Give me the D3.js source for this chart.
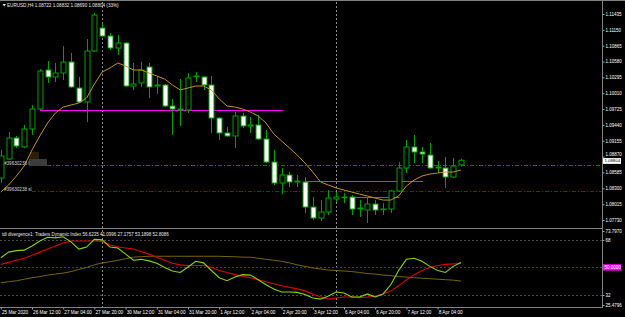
<!DOCTYPE html>
<html><head><meta charset="utf-8">
<script src="https://cdn.jsdelivr.net/npm/d3@7"></script>
<style>html,body{margin:0;padding:0;background:#000;overflow:hidden}svg{display:block}</style>
</head><body>
<svg id="c" width="625" height="317"></svg>
<script>
// ---- data (EURUSD H4, 25 Mar 2020 20:00 .. 8 Apr 2020 16:00) ----
const opens = [1.08485,1.08827,1.09205,1.09043,1.09367,1.09726,1.10428,1.10302,1.10374,1.10572,
 1.10104,1.09852,1.10769,1.11183,1.11039,1.10823,1.10913,1.10140,1.10194,1.10482,
 1.10140,1.10158,1.09780,1.09726,1.09708,1.10320,1.10302,1.10158,1.09564,1.09295,
 1.09241,1.09600,1.09421,1.09439,1.09187,1.08773,1.08395,1.08539,1.08413,1.08413,
 1.07963,1.07766,1.07874,1.08107,1.08143,1.08143,1.07927,1.07909,1.08017,1.07927,
 1.07927,1.08251,1.08665,1.09043,1.08953,1.08899,1.08665,1.08665,1.08503,1.08722];
const highs = [1.08989,1.09313,1.09241,1.09439,1.09798,1.10446,1.10590,1.10554,1.10859,1.10734,
 1.10302,1.10985,1.11453,1.11273,1.11093,1.11057,1.10931,1.10554,1.10572,1.10554,
 1.10320,1.10176,1.09906,1.10266,1.10374,1.10392,1.10320,1.10320,1.09582,1.09403,
 1.09672,1.09654,1.09582,1.09618,1.09349,1.08989,1.08665,1.08593,1.08539,1.08503,
 1.08143,1.08089,1.08269,1.08233,1.08215,1.08179,1.08089,1.08143,1.08089,1.08035,
 1.08269,1.08773,1.09169,1.09259,1.09043,1.09115,1.08791,1.08863,1.08845,1.08832];
const lows = [1.08395,1.08809,1.09025,1.09025,1.09259,1.09708,1.10194,1.10212,1.10248,1.10104,
 1.09834,1.09492,1.10751,1.11021,1.10787,1.10698,1.10122,1.10068,1.10122,1.09924,
 1.09996,1.09762,1.09259,1.09421,1.09654,1.10212,1.10068,1.09295,1.09169,1.09223,
 1.09025,1.09385,1.09295,1.09169,1.08755,1.08359,1.08197,1.08323,1.08323,1.07856,
 1.07730,1.07712,1.07820,1.08053,1.08035,1.07820,1.07784,1.07676,1.07820,1.07820,
 1.07856,1.08233,1.08575,1.08755,1.08755,1.08647,1.08575,1.08305,1.08485,1.08690];
const closes = [1.08881,1.09205,1.09061,1.09367,1.09726,1.10410,1.10302,1.10374,1.10572,1.10122,
 1.09852,1.10769,1.11417,1.11039,1.10823,1.10913,1.10140,1.10176,1.10428,1.10122,
 1.10158,1.09780,1.09726,1.09708,1.10284,1.10318,1.10158,1.09564,1.09295,1.09241,
 1.09600,1.09421,1.09439,1.09187,1.08773,1.08395,1.08539,1.08413,1.08431,1.07963,
 1.07766,1.07874,1.08125,1.08143,1.08140,1.07927,1.07945,1.08017,1.07909,1.07925,
 1.08251,1.08665,1.09043,1.08953,1.08917,1.08665,1.08683,1.08503,1.08701,1.08804];
const maValues = [1.08233,1.08359,1.08521,1.08701,1.08989,1.09241,1.09475,1.09654,1.09762,1.09798,
 1.09834,1.09924,1.10176,1.10392,1.10464,1.10554,1.10500,1.10428,1.10428,1.10374,
 1.10320,1.10266,1.10158,1.10068,1.10104,1.10140,1.10140,1.10068,1.09906,1.09780,
 1.09762,1.09726,1.09672,1.09600,1.09475,1.09277,1.09151,1.09025,1.08899,1.08755,
 1.08593,1.08413,1.08359,1.08305,1.08269,1.08233,1.08197,1.08161,1.08125,1.08089,
 1.08089,1.08161,1.08341,1.08449,1.08521,1.08557,1.08575,1.08593,1.08593,1.08629];
// TDI sub-window
const tdiPrice = [56.3,60.0,61.0,61.3,64.0,67.3,69.7,69.3,70.0,66.7,
 62.0,63.3,68.3,68.0,63.3,62.7,58.7,54.7,55.3,54.3,
 52.7,50.0,47.7,46.7,50.3,54.0,53.0,48.0,43.3,41.3,
 43.7,45.3,45.0,42.0,38.7,36.0,34.0,34.0,33.7,32.3,
 30.0,29.3,31.3,34.0,33.3,30.7,30.7,32.7,30.7,32.7,
 38.7,48.0,55.3,56.0,54.0,50.7,48.0,46.7,50.7,53.19];
const tdiSignal = [52.0,53.3,54.7,56.0,58.0,60.0,62.0,64.0,66.0,67.3,
 67.3,67.3,67.3,67.0,64.7,63.3,62.7,62.0,60.3,58.7,
 56.7,54.7,52.7,51.7,51.3,51.3,51.3,50.0,48.0,46.7,
 45.3,44.3,43.3,42.0,40.7,39.3,38.0,37.0,36.0,34.7,
 32.7,30.7,29.3,30.0,30.7,30.7,30.3,30.7,31.3,32.7,
 34.7,38.0,42.0,45.3,48.0,50.0,51.3,52.0,52.3,52.81];
const tdiBase = [40.0,40.7,41.3,42.3,43.3,44.0,45.0,45.7,46.3,47.3,
 48.7,50.0,51.7,53.0,53.7,54.7,55.7,56.7,57.0,57.3,
 57.3,57.3,57.3,57.3,57.3,57.3,57.3,57.3,57.3,57.1,
 57.0,56.7,56.7,56.0,55.3,54.7,54.0,53.0,51.7,50.7,
 49.7,49.0,48.3,48.0,47.7,47.3,46.7,46.0,45.7,45.0,
 44.7,44.0,43.7,43.3,43.0,42.7,42.3,42.0,41.7,41.10];
// axes
const priceTicks = [1.11435,1.11150,1.10865,1.10580,1.10295,1.10010,1.09725,1.09440,1.09155,1.08870,1.08585,1.08300,1.08015,1.07730];
const timeTickBars = [0,4,8,12,16,20,24,28,32,36,40,44,48,52,56];
const timeTickLabels = ["25 Mar 2020","26 Mar 12:00","27 Mar 04:00","27 Mar 20:00","30 Mar 12:00","31 Mar 04:00","31 Mar 20:00","1 Apr 12:00","2 Apr 04:00","2 Apr 20:00","3 Apr 12:00","6 Apr 04:00","6 Apr 20:00","7 Apr 12:00","8 Apr 04:00"];
const tdiTicks = [73.797,68,32,25.4796];
const tdiTickLabels = ["73.7970","68","32","25.4796"];
const tdiLevels = [68,50,32];
// objects
const hLinePrices = [1.09708,1.08431,1.08143];
const hLineFrom = [5,39,44.8];
const hLineTo = [36.2,54.1,51.1];
const orderPrices = [1.08722,1.08260];
const orderLabels = ["#39630238 l","#39630238 sl"];
const separatorBars = [13,43];
const lastPrice = 1.08804;
const titleText = "EURUSD,H4  1.08722 1.08832 1.08690 1.08804  (33%)";
const subTitle = "tdi divergence1: Traders Dynamic Index 56.6235 41.0996 27.1757 53.1898 52.8086";

// ---- drawing ----
const FONT = "'Liberation Sans', Arial, sans-serif";
const svg = d3.select("#c");
svg.append("rect").attr("width",625).attr("height",317).attr("fill","#000");

const x = d3.scaleLinear().domain([0,59]).range([0.8,461]);
const y = d3.scaleLinear().domain([1.07730,1.11435]).range([220,14]);
const ys = d3.scaleLinear().domain([25.4796,73.797]).range([305,231]);
const px = v => Math.round(x(v)) + 0.5;

const defs = svg.append("defs");
defs.append("clipPath").attr("id","main").append("rect").attr("x",0).attr("y",2).attr("width",602).attr("height",225);
defs.append("clipPath").attr("id","sub").append("rect").attr("x",0).attr("y",229.5).attr("width",602).attr("height",77.5);

// frames
const frame = svg.append("g").attr("stroke","#808080").attr("stroke-width",1);
frame.append("line").attr("x1",0).attr("x2",625).attr("y1",0.5).attr("y2",0.5);
frame.append("line").attr("x1",0).attr("x2",603).attr("y1",228.5).attr("y2",228.5);
frame.append("line").attr("x1",0).attr("x2",603).attr("y1",307.5).attr("y2",307.5);
frame.append("line").attr("x1",602.5).attr("x2",602.5).attr("y1",0).attr("y2",308);

// period separators
svg.append("g").selectAll("line").data(separatorBars).join("line")
  .attr("x1",d=>px(d)).attr("x2",d=>px(d)).attr("y1",2).attr("y2",307)
  .attr("stroke","#8a8a8a").attr("stroke-width",1).attr("stroke-dasharray","2,2");

const main = svg.append("g").attr("clip-path","url(#main)");

// order lines
const orderColors = ["#0a7a0a","#a00000"];
const orderStart = [47,32];
main.selectAll("line.order").data(orderPrices).join("line").attr("class","order")
  .attr("x1",(d,i)=>orderStart[i]).attr("x2",602)
  .attr("y1",d=>Math.round(y(d))+0.5).attr("y2",d=>Math.round(y(d))+0.5)
  .attr("stroke",(d,i)=>orderColors[i]).attr("stroke-width",1).attr("stroke-dasharray","4,2,1,2");
main.append("rect").attr("x",29).attr("y",159).attr("width",18).attr("height",7).attr("fill","#3c3c3c");
main.append("rect").attr("x",30).attr("y",152).attr("width",9).attr("height",7).attr("fill","#2a1e08");
main.selectAll("text.order").data(orderLabels).join("text").attr("class","order")
  .attr("x",4).attr("y",(d,i)=>Math.round(y(orderPrices[i]))-0.5)
  .attr("fill","#d8d8d8").attr("font-family",FONT).attr("font-size",4.6).text(d=>d);

// magenta horizontal lines
main.selectAll("line.hl").data(hLinePrices).join("line").attr("class","hl")
  .attr("x1",(d,i)=>x(hLineFrom[i])).attr("x2",(d,i)=>x(hLineTo[i]))
  .attr("y1",d=>Math.round(y(d))+0.5).attr("y2",d=>Math.round(y(d))+0.5)
  .attr("stroke","#ff00ff").attr("stroke-width",1.2);

// candles
const GREEN = "#00a000";
const idx = d3.range(opens.length);
const cg = main.append("g");
cg.selectAll("line.wick").data(idx).join("line").attr("class","wick")
  .attr("x1",i=>px(i)).attr("x2",i=>px(i))
  .attr("y1",i=>y(highs[i])).attr("y2",i=>y(lows[i]))
  .attr("stroke",GREEN).attr("stroke-width",1);
cg.selectAll("rect.body").data(idx).join("rect").attr("class","body")
  .attr("x",i=>px(i)-2.5).attr("width",5)
  .attr("y",i=>y(Math.max(opens[i],closes[i])))
  .attr("height",i=>Math.max(0.6,Math.abs(y(opens[i])-y(closes[i]))))
  .attr("fill",i=>closes[i]<opens[i]?"#ffffff":"#000000")
  .attr("stroke",GREEN).attr("stroke-width",1);

// moving average
main.append("path").datum(maValues)
  .attr("d",d3.line().x((d,i)=>x(i)).y(d=>y(d)))
  .attr("fill","none").attr("stroke","#c8901e").attr("stroke-width",1);

// price axis
const pa = svg.append("g").attr("transform","translate(602.5,0)")
  .call(d3.axisRight(y).tickValues(priceTicks).tickFormat(d3.format(".5f")).tickSizeInner(2).tickSizeOuter(0).tickPadding(1));
pa.select(".domain").remove();
pa.selectAll("line").attr("stroke","#a0a0a0");
pa.selectAll("text").attr("fill","#ffffff").attr("font-family",FONT).attr("font-size",4.5);
// label just above the last-price box is nudged up so it stays readable
pa.selectAll(".tick").filter(d=>Math.abs(d-1.08870)<1e-6).select("text").attr("transform","translate(0,-2.2)");

// last price box
const lp = svg.append("g");
const lpy = y(lastPrice)+0.6;
lp.append("rect").attr("x",603).attr("y",lpy-2.8).attr("width",18).attr("height",5.8).attr("fill","#ffffff");
lp.append("text").attr("x",604.5).attr("y",lpy).attr("dy","0.34em")
  .attr("fill","#000").attr("font-family",FONT).attr("font-size",4.3).text(d3.format(".5f")(lastPrice));

// title
svg.append("path").attr("d","M2.5,4 L6,4 L4.25,6.5 Z").attr("fill","#e0e0e0");
svg.append("text").attr("x",7).attr("y",7).attr("fill","#e8e8e8").attr("font-family",FONT).attr("font-size",4.6).text(titleText);

// ---- sub window ----
const sub = svg.append("g").attr("clip-path","url(#sub)");
const levelColors = ["#4a4a4a","#7a1a7a","#4a4a4a"];
sub.selectAll("line.lev").data(tdiLevels).join("line").attr("class","lev")
  .attr("x1",0).attr("x2",602)
  .attr("y1",d=>Math.round(ys(d))+0.5).attr("y2",d=>Math.round(ys(d))+0.5)
  .attr("stroke",(d,i)=>levelColors[i]).attr("stroke-width",1).attr("stroke-dasharray","2,2");
const sline = d3.line().x((d,i)=>x(i)).y(d=>ys(d));
sub.append("path").datum(tdiBase).attr("d",sline).attr("fill","none").attr("stroke","#7a6400").attr("stroke-width",1);
sub.append("path").datum(tdiSignal).attr("d",sline).attr("fill","none").attr("stroke","#e00000").attr("stroke-width",1.1);
sub.append("path").datum(tdiPrice).attr("d",sline).attr("fill","none").attr("stroke","#86d800").attr("stroke-width",1.1);
svg.append("text").attr("x",2).attr("y",235.5).attr("fill","#e8e8e8").attr("font-family",FONT).attr("font-size",4.5).text(subTitle);

const sa = svg.append("g").attr("transform","translate(602.5,0)")
  .call(d3.axisRight(ys).tickValues(tdiTicks).tickFormat((d,i)=>tdiTickLabels[i]).tickSizeInner(2).tickSizeOuter(0).tickPadding(1));
sa.select(".domain").remove();
sa.selectAll("line").attr("stroke","#a0a0a0");
sa.selectAll("text").attr("fill","#ffffff").attr("font-family",FONT).attr("font-size",4.5);
const mb = svg.append("g");
mb.append("rect").attr("x",603).attr("y",ys(50)-3.2).attr("width",18).attr("height",6.4).attr("fill","#ff00ff");
mb.append("text").attr("x",604.5).attr("y",ys(50)).attr("dy","0.34em")
  .attr("fill","#ffffff").attr("font-family",FONT).attr("font-size",4.5).text("50.0000");

// time axis
const ta = svg.append("g").attr("transform","translate(0,307.5)")
  .call(d3.axisBottom(x).tickValues(timeTickBars).tickFormat((d,i)=>timeTickLabels[i]).tickSizeInner(2).tickSizeOuter(0).tickPadding(1));
ta.select(".domain").remove();
ta.selectAll("line").attr("stroke","#a0a0a0");
ta.selectAll("text").attr("fill","#ffffff").attr("font-family",FONT).attr("font-size",4.7).attr("text-anchor","start").attr("dx","0.6");
</script>
</body></html>
